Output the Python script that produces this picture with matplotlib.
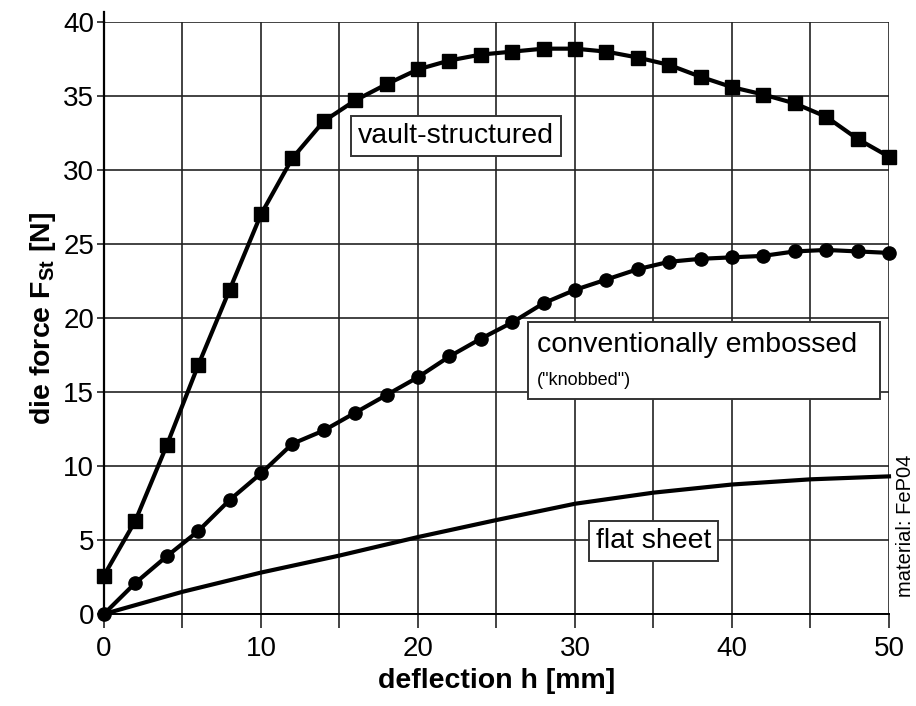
import numpy as np
import matplotlib
matplotlib.use("Agg")
import matplotlib.pyplot as plt
from matplotlib.patches import Rectangle

# -------------------- Data --------------------
h_marked = [0, 2, 4, 6, 8, 10, 12, 14, 16, 18, 20, 22, 24,
            26, 28, 30, 32, 34, 36, 38, 40, 42, 44, 46, 48, 50]
force_vault = [2.6, 6.3, 11.4, 16.8, 21.9, 27.0, 30.8, 33.3, 34.7, 35.8, 36.8, 37.4, 37.8,
               38.0, 38.2, 38.2, 38.0, 37.6, 37.1, 36.3, 35.6, 35.1, 34.5, 33.6, 32.1, 30.9]
force_knobbed = [0.0, 2.1, 3.9, 5.6, 7.7, 9.5, 11.5, 12.4, 13.6, 14.8, 16.0, 17.4, 18.6,
                 19.7, 21.0, 21.9, 22.6, 23.3, 23.8, 24.0, 24.1, 24.2, 24.5, 24.6, 24.5, 24.4]

h_flat = [0, 5, 10, 15, 20, 25, 30, 35, 40, 45, 50]
force_flat = [0.0, 1.5, 2.8, 3.95, 5.2, 6.35, 7.45, 8.2, 8.75, 9.1, 9.3]

x_ticks = [0, 10, 20, 30, 40, 50]
y_ticks = [0, 5, 10, 15, 20, 25, 30, 35, 40]

# -------------------- Style --------------------
plt.rcParams['font.family'] = ['Liberation Sans', 'DejaVu Sans']
plt.rcParams['mathtext.fontset'] = 'custom'
plt.rcParams['mathtext.rm'] = 'Liberation Sans'
plt.rcParams['mathtext.bf'] = 'Liberation Sans:bold'

grid_color = '#222222'
line_w = 3.0

fig = plt.figure(figsize=(9.16, 7.06), dpi=100)
ax = fig.add_axes([0.1135, 0.1303, 0.8570, 0.8385])

ax.set_xlim(0, 50)
ax.set_ylim(0, 40)

# grid every 5 units (x: labelled majors every 10, minors in between)
ax.set_xticks(x_ticks)
ax.set_xticks(np.arange(5, 50, 10), minor=True)
ax.set_yticks(y_ticks)
ax.grid(which='both', color=grid_color, linewidth=1.2)
ax.set_axisbelow(True)

ax.tick_params(axis='x', which='both', direction='out', length=10, width=1.2,
               color=grid_color, labelsize=20, pad=6)
ax.tick_params(axis='y', which='major', direction='out', length=5, width=1.2,
               color=grid_color, labelsize=20, pad=2)

for side in ['top', 'right']:
    ax.spines[side].set_visible(False)
ax.spines['left'].set_linewidth(1.6)
ax.spines['bottom'].set_linewidth(1.4)
# left axis extends a little above the top grid line
ax.plot([0, 0], [40, 40.7], color='black', linewidth=1.6, clip_on=False)

# -------------------- Curves --------------------
ax.plot(h_marked, force_vault, color='black', linewidth=line_w,
        marker='s', markersize=9.5, clip_on=False, zorder=5)
ax.plot(h_marked, force_knobbed, color='black', linewidth=line_w,
        marker='o', markersize=9.5, clip_on=False, zorder=5)
ax.plot(h_flat, force_flat, color='black', linewidth=line_w, clip_on=False, zorder=5)

# -------------------- Annotations --------------------
box = dict(boxstyle='square,pad=0.25', fc='white', ec='#333333', lw=1.4)
ax.text(22.4, 32.3, 'vault-structured', fontsize=20.5, ha='center', va='center',
        bbox=box, zorder=6)
ax.text(35.0, 4.95, 'flat sheet', fontsize=20.5, ha='center', va='center',
        bbox=box, zorder=6)

ax.add_patch(Rectangle((27.0, 14.5), 22.4, 5.2, fc='white', ec='#333333', lw=1.4, zorder=6))
ax.text(27.6, 18.2, 'conventionally embossed', fontsize=20.5, ha='left', va='center', zorder=7)
ax.text(27.6, 15.8, '("knobbed")', fontsize=13, ha='left', va='center', zorder=7)

ax.set_xlabel('deflection h [mm]', fontsize=20.5, fontweight='bold', labelpad=4)
ax.set_ylabel('die force F$_{\\mathbf{St}}$ [N]', fontsize=20.5, fontweight='bold', labelpad=4)

fig.text(0.988, 0.255, 'material: FeP04', rotation=90, fontsize=14.5,
         ha='center', va='center')

fig.savefig('out.png', dpi=100, facecolor='white')
